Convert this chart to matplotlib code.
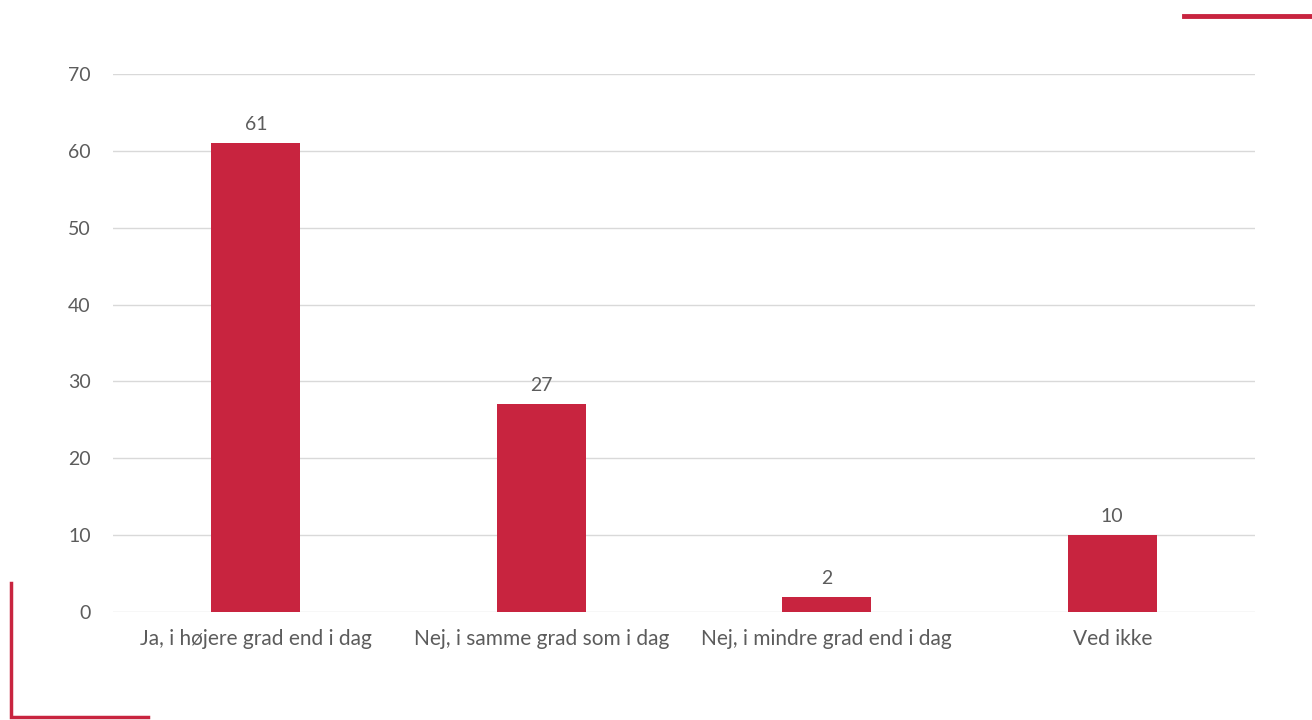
import matplotlib
matplotlib.use("Agg")
import matplotlib.pyplot as plt
from matplotlib.lines import Line2D

categories = ["Ja, i højere grad end i dag", "Nej, i samme grad som i dag",
              "Nej, i mindre grad end i dag", "Ved ikke"]
values = [61, 27, 2, 10]
yticks = [0, 10, 20, 30, 40, 50, 60, 70]

red = "#C8243F"
text_color = "#5c5c5c"

plt.rcParams["font.family"] = ["Lato", "DejaVu Sans"]

fig = plt.figure(figsize=(13.12, 7.2), dpi=100)
ax = fig.add_axes([113 / 1312, 1 - 612 / 720, (1255 - 113) / 1312, (612 - 74) / 720])

x = range(len(categories))
bars = ax.bar(x, values, width=0.31, color=red, zorder=3)
for xi, v in zip(x, values):
    ax.text(xi, v + 1.3, str(v), ha="center", va="bottom", fontsize=14, color=text_color)

ax.set_xlim(-0.5, len(categories) - 0.5)
ax.set_ylim(0, 70)
ax.set_yticks(yticks)
ax.set_xticks(list(x))
ax.set_xticklabels(categories)
ax.grid(axis="y", color="#d9d9d9", linewidth=1, zorder=0)
ax.tick_params(axis="y", length=0, labelsize=14, labelcolor=text_color, pad=16)
ax.tick_params(axis="x", length=0, labelsize=15, labelcolor=text_color, pad=12)
for s in ax.spines.values():
    s.set_visible(False)

# decorative red corner lines
fig.add_artist(Line2D([1184 / 1312, 1.0], [1 - 16 / 720, 1 - 16 / 720],
                      color=red, linewidth=3.5, transform=fig.transFigure))
fig.add_artist(Line2D([10.5 / 1312, 10.5 / 1312, 148 / 1312],
                      [1 - 583 / 720, 1 - 717 / 720, 1 - 717 / 720],
                      color=red, linewidth=2.5, transform=fig.transFigure,
                      solid_joinstyle="miter"))

fig.savefig("out.png", dpi=100)
